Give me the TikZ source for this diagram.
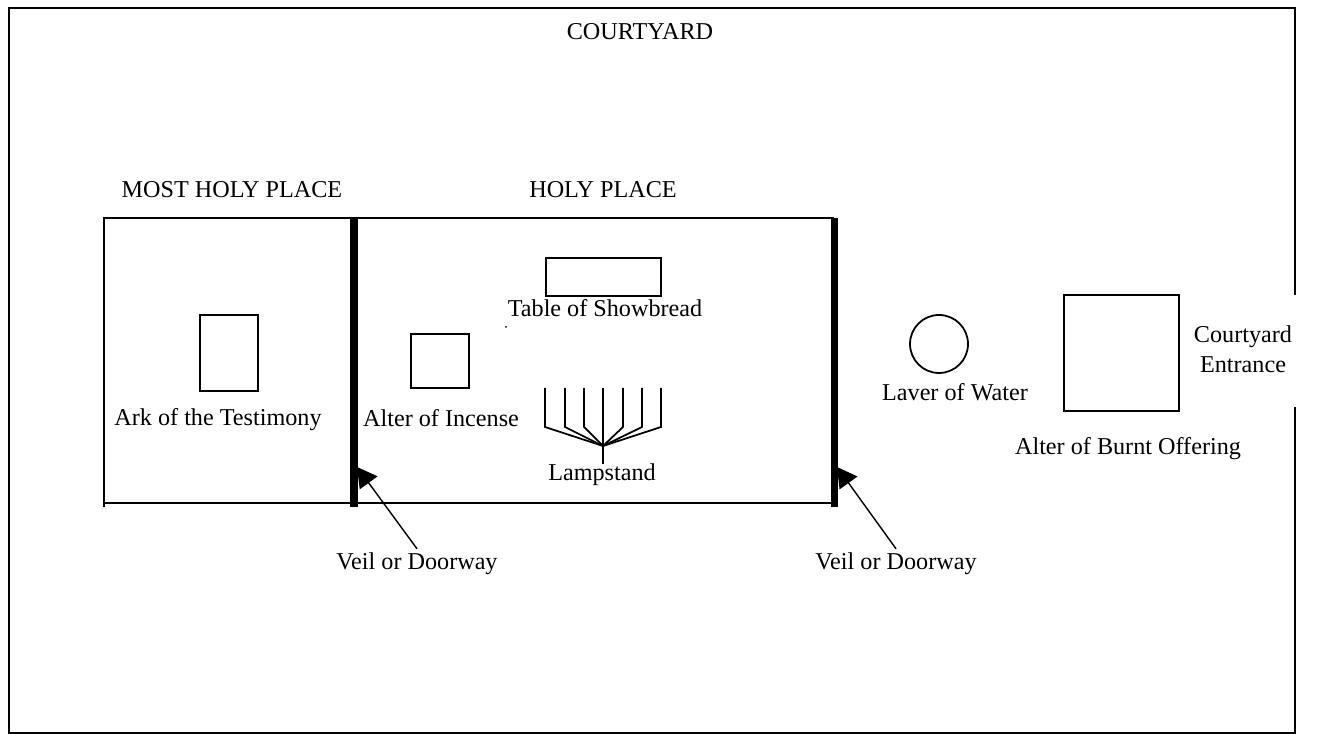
\documentclass[tikz,border=0pt]{standalone}
\usepackage{fontspec}
\setmainfont{Liberation Serif}
\usetikzlibrary{arrows.meta}
\tikzset{
  wall/.style={line width=0.5pt},
  veil/.style={line width=2pt},
  item/.style={draw,line width=0.5pt,minimum width=0pt,inner sep=0pt},
  tag/.style={font=\fontsize{6.88pt}{8.5pt}\selectfont,inner sep=1pt,align=center},
  pointer/.style={line width=0.4pt,-{Triangle[length=5.6pt,width=6.2pt]}}
}
\begin{document}
\begin{tikzpicture}
\useasboundingbox (0,0) rectangle (13.37,7.34);

% courtyard wall, open at the entrance
\draw[wall] (12.95,4.39) -- (12.95,7.26) -- (0.09,7.26) -- (0.09,0.01) -- (12.95,0.01) -- (12.95,3.27);

% tent
\draw[wall] (1.04,2.27) -- (1.04,5.16) -- (8.34,5.16);
\draw[wall] (1.04,2.31) -- (8.34,2.31);

% veils
\draw[veil] (3.54,5.15) -- (3.54,2.27);
\draw[veil] (8.34,5.16) -- (8.34,2.27);

% furniture
\node[item,minimum width=0.58cm,minimum height=0.76cm] (ark) at (2.29,3.81) {};
\node[item,minimum width=0.58cm,minimum height=0.54cm] (incense) at (4.40,3.73) {};
\node[item,minimum width=1.15cm,minimum height=0.38cm] (table) at (6.035,4.57) {};
\node[item,circle,minimum size=0.58cm] (laver) at (9.39,3.90) {};
\node[item,minimum width=1.15cm,minimum height=1.16cm] (burnt) at (11.215,3.81) {};

% lampstand
\coordinate (stem) at (6.03,2.88);
\draw[wall] (6.03,3.46) -- (6.03,2.70);
\foreach \x/\k in {5.45/3.07,5.65/3.07,5.84/3.07,6.23/3.07,6.42/3.07,6.61/3.07}
  \draw[wall] (\x,3.46) -- (\x,\k) -- (stem);

% stray dot
\fill (5.06,4.07) circle (0.01);

% labels
\node[tag] (court) at (6.40,7.02) {COURTYARD};
\node[tag] (most) at (2.32,5.44) {MOST HOLY PLACE};
\node[tag] (holy) at (6.03,5.44) {HOLY PLACE};
\node[tag] (tablelabel) at (6.05,4.26) {Table of Showbread};
\node[tag] (arklabel) at (2.18,3.14) {Ark of the Testimony};
\node[tag] (incenselabel) at (4.41,3.16) {Alter of Incense};
\node[tag] (lamplabel) at (6.02,2.59) {Lampstand};
\node[tag] (laverlabel) at (9.55,3.42) {Laver of Water};
\node[tag] (burntlabel) at (11.28,2.85) {Alter of Burnt Offering};
\node[tag] (entrance) at (12.43,3.85) {Courtyard\\Entrance};
\node[tag] (veilA) at (4.17,1.70) {Veil or Doorway};
\node[tag] (veilB) at (8.96,1.70) {Veil or Doorway};

% arrows to the veils
\coordinate (veilAtip) at (3.57,2.67);
\coordinate (veilBtip) at (8.37,2.67);
\draw[pointer] (veilA.north) -- (veilAtip);
\draw[pointer] (veilB.north) -- (veilBtip);

\end{tikzpicture}
\end{document}
